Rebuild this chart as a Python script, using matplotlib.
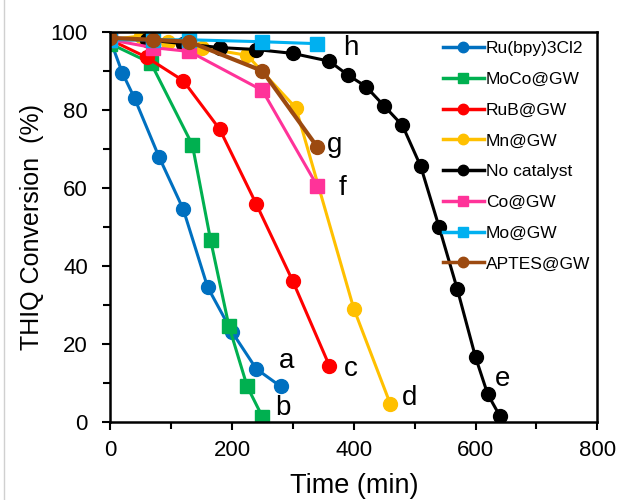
import matplotlib.pyplot as plt
from matplotlib.lines import Line2D

plt.rcParams['font.family'] = ['Liberation Sans', 'DejaVu Sans']

# time (min) and THIQ conversion (%) for each catalyst
t_ru = [0, 20, 40, 80, 120, 160, 200, 240, 280]
y_ru = [98, 89.5, 83, 68, 54.5, 34.5, 23, 13.5, 9]

t_moco = [0, 67, 135, 165, 195, 225, 250]
y_moco = [97, 92, 71, 46.5, 24.5, 9, 1.2]

t_rub = [0, 60, 120, 180, 240, 300, 360]
y_rub = [98, 93.5, 87.5, 75, 55.8, 36, 14.3]

t_mn = [0, 50, 95, 150, 225, 305, 400, 460]
y_mn = [98, 99, 97.5, 96, 94, 80.5, 29, 4.5]

t_none = [0, 60, 120, 180, 240, 300, 360, 390, 420, 450, 480, 510, 540, 570, 600, 620, 640]
y_none = [98, 98, 97, 96, 95.5, 94.5, 92.5, 89, 86, 81, 76, 65.5, 50, 34, 16.5, 7, 1.4]

t_co = [0, 70, 130, 250, 340]
y_co = [98, 96, 95, 85, 60.5]

t_mo = [0, 70, 130, 250, 340]
y_mo = [98, 98, 98, 97.5, 97]

t_aptes = [0, 70, 130, 250, 340]
y_aptes = [98.5, 98, 97.5, 90, 70.5]

names = ['Ru(bpy)3Cl2', 'MoCo@GW', 'RuB@GW', 'Mn@GW', 'No catalyst', 'Co@GW', 'Mo@GW', 'APTES@GW']
colors = ['#0070C0', '#00B050', '#FF0000', '#FFC000', '#000000', '#FF3399', '#00B0F0', '#9C4A10']
markers = ['o', 's', 'o', 'o', 'o', 's', 's', 'o']

letters = ['a', 'b', 'c', 'd', 'e', 'f', 'g', 'h']
letter_pos = [(290, 15.5), (284, 3.5), (395, 13.5), (491, 6), (645, 11), (381, 60), (368, 71), (395, 96)]

series = [(t_ru, y_ru), (t_moco, y_moco), (t_rub, y_rub), (t_mn, y_mn),
          (t_none, y_none), (t_co, y_co), (t_mo, y_mo), (t_aptes, y_aptes)]

fig = plt.figure(figsize=(6.19, 5.0), dpi=100)
ax = fig.add_axes([0.178, 0.157, 0.787, 0.779])

for (t, y), name, c, m in zip(series, names, colors, markers):
    lw = 3.0 if name == 'APTES@GW' else 2.2
    ms = 10 if m == 'o' else 9.5
    ax.plot(t, y, color=c, marker=m, markersize=ms, linewidth=lw, label=name)

for s, (x, y) in zip(letters, letter_pos):
    ax.text(x, y, s, fontsize=20, ha='center', va='center')

ax.set_xlim(0, 800)
ax.set_ylim(0, 100)
ax.set_xticks([0, 200, 400, 600, 800])
ax.set_xticks([100, 300, 500, 700], minor=True)
ax.set_yticks([0, 20, 40, 60, 80, 100])
ax.set_yticks([10, 30, 50, 70, 90], minor=True)
ax.tick_params(which='major', direction='out', length=6, width=1.5, labelsize=16)
ax.tick_params(which='minor', direction='out', length=5, width=1.5)
ax.tick_params(axis='y', which='major', pad=10)
ax.tick_params(axis='x', which='major', pad=7)
for sp in ax.spines.values():
    sp.set_linewidth(1.8)

ax.set_xlabel('Time (min)', fontsize=19.5, labelpad=9)
ax.set_ylabel('THIQ Conversion  (%)', fontsize=18, labelpad=5)

handles = [Line2D([0], [0], color=c, marker=m, markersize=7.5, linewidth=2.5)
           for c, m in zip(colors, markers)]
ax.legend(handles, names, loc='upper right', frameon=False, fontsize=12.5,
          handlelength=2.4, handletextpad=0.1, labelspacing=0.9,
          borderaxespad=0.0, bbox_to_anchor=(1.0, 0.995))

fig.add_artist(Line2D([0.007, 0.007], [0.0, 1.0], color='#d0d0d0', linewidth=1))

fig.savefig('out.png', dpi=100)
